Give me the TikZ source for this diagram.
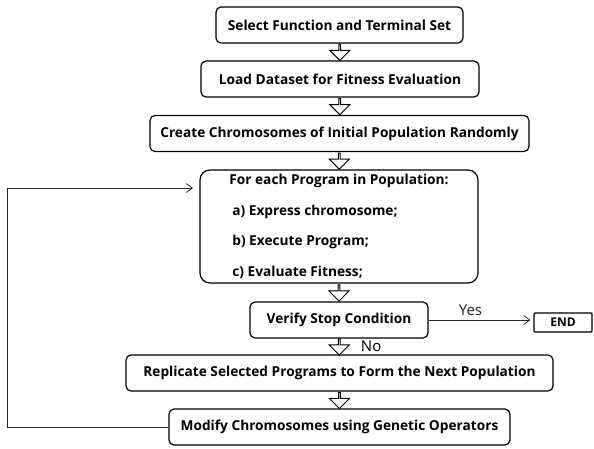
\documentclass[tikz,border=0pt]{standalone}
\usepackage{fontspec}
\setmainfont{Open Sans}
\usetikzlibrary{arrows.meta,positioning,calc,shapes.arrows}
\tikzset{
  stepbox/.style={draw, line width=1.2pt, rounded corners=5pt, fill=white,
    font=\bfseries\fontsize{13.7}{16}\selectfont, minimum height=36pt,
    inner sep=0pt, minimum width=#1},
  stepbox/.default={200pt},
  downarr/.style={single arrow, draw, line width=1pt, fill=white,
    shape border rotate=270, minimum height=16pt, minimum width=20pt,
    single arrow head extend=5pt, inner sep=0pt},
  thinarr/.style={-{Straight Barb[length=6pt,width=9pt]}, line width=0.8pt, black!85},
}
\begin{document}
\begin{tikzpicture}[x=1pt, y=-1pt]
  \useasboundingbox (0,0) rectangle (594,448);
  \node[stepbox=247pt] (sel) at (339.5,25) {Select Function and Terminal Set};
  \node[stepbox=278pt] (load) at (340,79) {Load Dataset for Fitness Evaluation};
  \node[stepbox=379pt] (init) at (339.5,133.5) {Create Chromosomes of Initial Population Randomly};
  \node[stepbox=278pt, minimum height=113pt, rounded corners=10pt, align=left] (eval) at (339,226.5)
    {For each Program in Population:\\[14.5pt]
     \hspace*{3pt}a) Express chromosome;\\[14.5pt]
     \hspace*{3pt}b) Execute Program;\\[14.5pt]
     \hspace*{3pt}c) Evaluate Fitness;};
  \node[stepbox=178pt] (verify) at (339,320) {Verify Stop Condition};
  \node[stepbox=58pt, minimum height=19pt, rounded corners=1pt,
    font=\bfseries\fontsize{12}{14}\selectfont] (endn) at (563,322.5) {END};
  \node[stepbox=427pt] (repl) at (339.5,373) {Replicate Selected Programs to Form the Next Population};
  \node[stepbox=341pt] (modi) at (339.5,427) {Modify Chromosomes using Genetic Operators};

  % hollow arrows down the chain
  \foreach \a/\b in {sel/load, load/init, init/eval, eval/verify, verify/repl, repl/modi}
    \node[downarr] (\a-\b) at ($(\a.south)!0.5!(\b.north)$) {};

  \draw[thinarr, shorten >=3pt] (verify.east) -- node[pos=0.4, above=1pt, font=\fontsize{15}{17}\selectfont] {Yes}
    (verify.east -| endn.west);
  \node[right=9pt, font=\fontsize{15}{17}\selectfont] at (verify-repl.east) {No};

  % back to the evaluation loop
  \coordinate (loopin) at (193,188);
  \draw[thinarr] (modi.west) -| (7,188) -- (loopin);
\end{tikzpicture}
\end{document}
